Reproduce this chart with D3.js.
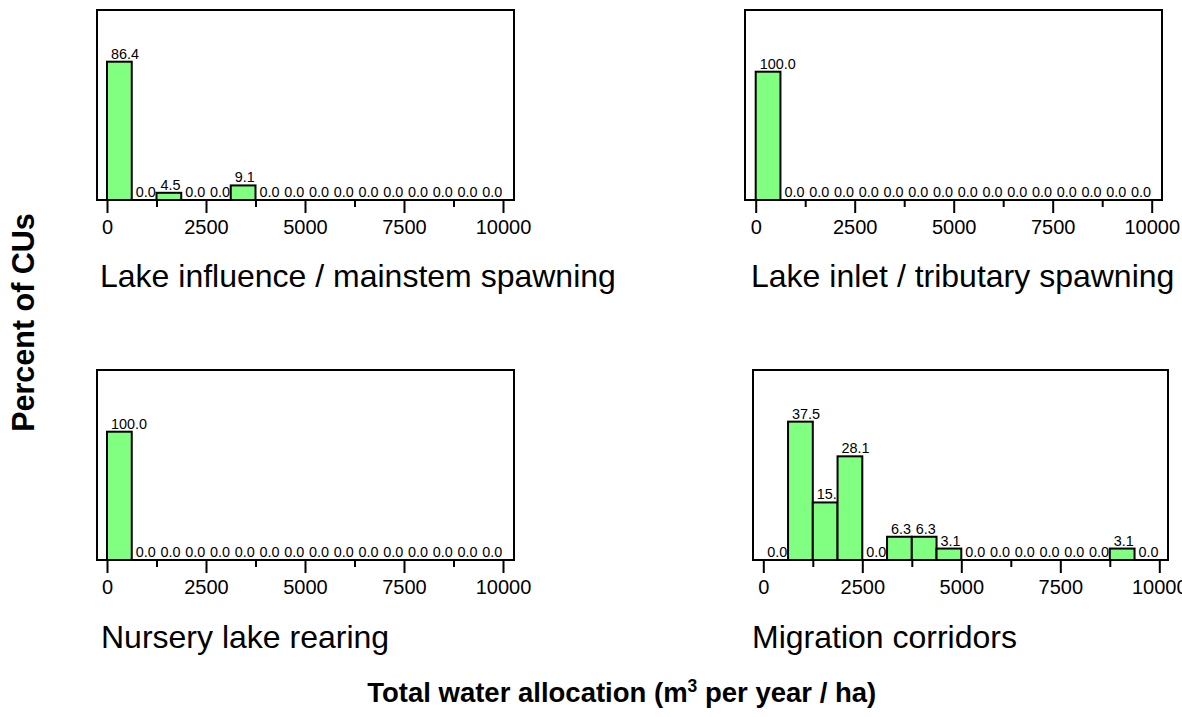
<!DOCTYPE html>
<html>
<head>
<meta charset="utf-8">
<script src="https://cdn.jsdelivr.net/npm/d3@7"></script>
<style>
  html, body { margin: 0; padding: 0; background: #ffffff; }
  svg { display: block; }
  text { font-family: "Liberation Sans", Arial, Helvetica, sans-serif; fill: #000; }
</style>
</head>
<body>
<svg id="chart" width="1182" height="717"></svg>
<script>
// Histogram bins: lower edge of each 625-wide class of total water allocation
const binStarts = [0, 625, 1250, 1875, 2500, 3125, 3750, 4375,
                   5000, 5625, 6250, 6875, 7500, 8125, 8750, 9375];
const binWidth = 625;

// Percent of CUs in each bin, one array per habitat type
const lakeInfluence = [86.4, 0.0, 4.5, 0.0, 0.0, 9.1, 0.0, 0.0,
                       0.0, 0.0, 0.0, 0.0, 0.0, 0.0, 0.0, 0.0];
const lakeInlet     = [100.0, 0.0, 0.0, 0.0, 0.0, 0.0, 0.0, 0.0,
                       0.0, 0.0, 0.0, 0.0, 0.0, 0.0, 0.0, 0.0];
const nurseryLake   = [100.0, 0.0, 0.0, 0.0, 0.0, 0.0, 0.0, 0.0,
                       0.0, 0.0, 0.0, 0.0, 0.0, 0.0, 0.0, 0.0];
const migration     = [0.0, 37.5, 15.6, 28.1, 0.0, 6.3, 6.3, 3.1,
                       0.0, 0.0, 0.0, 0.0, 0.0, 0.0, 3.1, 0.0];

const panelTitles = ["Lake influence / mainstem spawning",
                     "Lake inlet / tributary spawning",
                     "Nursery lake rearing",
                     "Migration corridors"];
const panelValues = [lakeInfluence, lakeInlet, nurseryLake, migration];

// Axis ticks
const majorTicks = [0, 2500, 5000, 7500, 10000];
const minorTicks = [1250, 3750, 6250, 8750];
const yAxisTitle = "Percent of CUs";

// Panel geometry (frame box, x-axis span, y-axis top value, subtitle anchor)
const layout = [
  { left: 97,  right: 514,  top: 10,  bottom: 200, x0: 107,   x1: 503,    yMax: 118.7, tx: 100, ty: 287 },
  { left: 745, right: 1162, top: 10,  bottom: 200, x0: 755.7, x1: 1151.7, yMax: 148.1, tx: 751, ty: 287 },
  { left: 97,  right: 514,  top: 370, bottom: 560, x0: 107,   x1: 503,    yMax: 148.1, tx: 101, ty: 648 },
  { left: 753, right: 1168, top: 370, bottom: 560, x0: 763.3, x1: 1159.3, yMax: 51.5,  tx: 752, ty: 648 }
];

const fmt = d3.format(".1f");
const svg = d3.select("#chart");
svg.append("rect").attr("width", 1182).attr("height", 717).attr("fill", "#fff");

layout.forEach((L, p) => {
  const values = panelValues[p];
  const x = d3.scaleLinear().domain([0, 10000]).range([L.x0, L.x1]);
  const y = d3.scaleLinear().domain([0, L.yMax]).range([L.bottom, L.top]);
  const g = svg.append("g");

  // frame
  g.append("rect")
    .attr("x", L.left).attr("y", L.top)
    .attr("width", L.right - L.left).attr("height", L.bottom - L.top)
    .attr("fill", "none").attr("stroke", "#000").attr("stroke-width", 2);

  // bars and value labels, drawn bin by bin so a later bar sits over an earlier label
  values.forEach((v, i) => {
    const x0 = x(binStarts[i]);
    const x1 = x(binStarts[i] + binWidth);
    if (v > 0) {
      g.append("rect")
        .attr("x", x0).attr("y", y(v))
        .attr("width", x1 - x0).attr("height", y(0) - y(v))
        .attr("fill", "#80ff80").attr("stroke", "#000").attr("stroke-width", 2);
    }
    g.append("text")
      .attr("x", x0 + 4).attr("y", y(v) - 3)
      .attr("font-size", 14.4)
      .text(fmt(v));
  });

  // minor ticks
  const minor = g.append("g").attr("transform", `translate(0,${L.bottom})`)
    .call(d3.axisBottom(x).tickValues(minorTicks).tickSize(7).tickFormat(""));
  minor.select(".domain").remove();
  minor.selectAll(".tick line").attr("stroke", "#000").attr("stroke-width", 2);

  // major ticks with labels
  const major = g.append("g").attr("transform", `translate(0,${L.bottom})`)
    .call(d3.axisBottom(x).tickValues(majorTicks).tickSize(13).tickFormat(d3.format("d")));
  major.select(".domain").remove();
  major.selectAll(".tick line").attr("stroke", "#000").attr("stroke-width", 2);
  major.selectAll(".tick text")
    .attr("y", 34).attr("dy", null)
    .attr("font-size", 20).attr("fill", "#000")
    .style("font-family", "'Liberation Sans', Arial, Helvetica, sans-serif");

  // panel subtitle
  svg.append("text")
    .attr("x", L.tx).attr("y", L.ty)
    .attr("font-size", 32)
    .text(panelTitles[p]);
});

// shared y-axis title
svg.append("text")
  .attr("transform", "translate(33.5,322.5) rotate(-90)")
  .attr("text-anchor", "middle")
  .attr("font-size", 30.5).attr("font-weight", "bold")
  .text(yAxisTitle);

// shared x-axis title with superscript
const xt = svg.append("text")
  .attr("x", 621.7).attr("y", 702)
  .attr("text-anchor", "middle")
  .attr("font-size", 27.5).attr("font-weight", "bold");
xt.append("tspan").text("Total water allocation (m");
xt.append("tspan").attr("font-size", 17.5).attr("dy", -10.5).text("3");
xt.append("tspan").attr("dy", 10.5).text(" per year / ha)");
</script>
</body>
</html>
